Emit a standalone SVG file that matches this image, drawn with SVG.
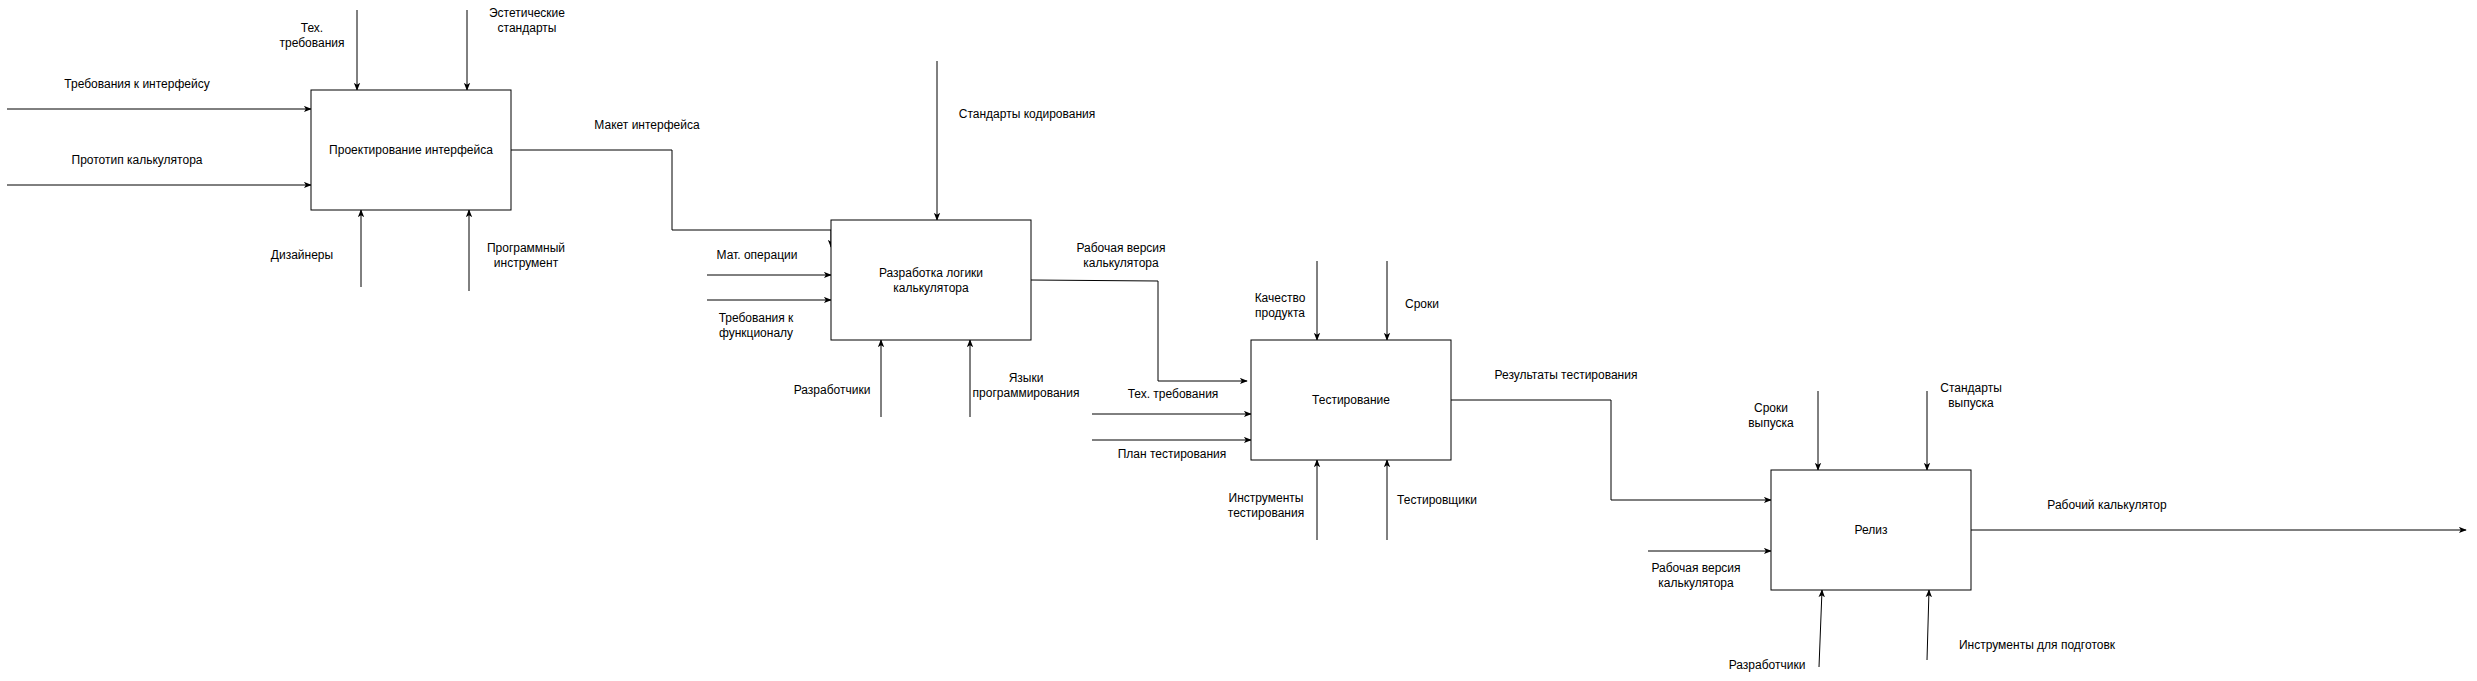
<svg xmlns="http://www.w3.org/2000/svg" width="2477" height="681" viewBox="0 0 2477 681">
<style>
.box{fill:#ffffff;stroke:#000000;stroke-width:1}
.c{fill:none;stroke:#000000;stroke-width:1}
text{font-family:"Liberation Sans",Arial,sans-serif;font-size:12px;fill:#000000;text-anchor:middle}
</style>
<defs>
<marker id="arr" viewBox="0 0 10 8" refX="9" refY="4" markerWidth="8" markerHeight="7" markerUnits="userSpaceOnUse" orient="auto">
<path d="M0,0 L10,4 L0,8 L2.5,4 z" fill="#000000"/>
</marker>
</defs>
<rect width="2477" height="681" fill="#ffffff"/>
<g id="connectors">
<path class="c" d="M7,109 L311,109" marker-end="url(#arr)"/>
<path class="c" d="M7,185 L311,185" marker-end="url(#arr)"/>
<path class="c" d="M357,10 L357,90" marker-end="url(#arr)"/>
<path class="c" d="M467,10 L467,90" marker-end="url(#arr)"/>
<path class="c" d="M361,287 L361,210" marker-end="url(#arr)"/>
<path class="c" d="M469,291 L469,210" marker-end="url(#arr)"/>
<path class="c" d="M511,150 L672,150 L672,230 L831,230 L831,247" marker-end="url(#arr)"/>
<path class="c" d="M937,61 L937,220" marker-end="url(#arr)"/>
<path class="c" d="M707,275 L831,275" marker-end="url(#arr)"/>
<path class="c" d="M707,300 L831,300" marker-end="url(#arr)"/>
<path class="c" d="M881,417 L881,340" marker-end="url(#arr)"/>
<path class="c" d="M970,417 L970,340" marker-end="url(#arr)"/>
<path class="c" d="M1031,280 L1158,281 L1158,381 L1247,381" marker-end="url(#arr)"/>
<path class="c" d="M1092,414 L1251,414" marker-end="url(#arr)"/>
<path class="c" d="M1092,440 L1251,440" marker-end="url(#arr)"/>
<path class="c" d="M1317,261 L1317,340" marker-end="url(#arr)"/>
<path class="c" d="M1387,261 L1387,340" marker-end="url(#arr)"/>
<path class="c" d="M1317,540 L1317,460" marker-end="url(#arr)"/>
<path class="c" d="M1387,540 L1387,460" marker-end="url(#arr)"/>
<path class="c" d="M1451,400 L1611,400 L1611,500 L1771,500" marker-end="url(#arr)"/>
<path class="c" d="M1648,551 L1771,551" marker-end="url(#arr)"/>
<path class="c" d="M1818,391 L1818,470" marker-end="url(#arr)"/>
<path class="c" d="M1927,391 L1927,470" marker-end="url(#arr)"/>
<path class="c" d="M1819,667 L1822,590" marker-end="url(#arr)"/>
<path class="c" d="M1927,660 L1929,590" marker-end="url(#arr)"/>
<path class="c" d="M1971,530 L2466,530" marker-end="url(#arr)"/>
</g>
<g id="labels">
<text x="137" y="88">Требования к интерфейсу</text>
<text x="137" y="164">Прототип калькулятора</text>
<text x="312" y="32">Тех.</text>
<text x="312" y="47">требования</text>
<text x="527" y="17">Эстетические</text>
<text x="527" y="32">стандарты</text>
<text x="302" y="259">Дизайнеры</text>
<text x="526" y="252">Программный</text>
<text x="526" y="267">инструмент</text>
<text x="647" y="129">Макет интерфейса</text>
<text x="1027" y="118">Стандарты кодирования</text>
<text x="757" y="259">Мат. операции</text>
<text x="756" y="322">Требования к</text>
<text x="756" y="337">функционалу</text>
<text x="1121" y="252">Рабочая версия</text>
<text x="1121" y="267">калькулятора</text>
<text x="832" y="394">Разработчики</text>
<text x="1026" y="382">Языки</text>
<text x="1026" y="397">программирования</text>
<text x="1173" y="398">Тех. требования</text>
<text x="1172" y="458">План тестирования</text>
<text x="1280" y="302">Качество</text>
<text x="1280" y="317">продукта</text>
<text x="1422" y="308">Сроки</text>
<text x="1266" y="502">Инструменты</text>
<text x="1266" y="517">тестирования</text>
<text x="1437" y="504">Тестировщики</text>
<text x="1566" y="379">Результаты тестирования</text>
<text x="1771" y="412">Сроки</text>
<text x="1771" y="427">выпуска</text>
<text x="1971" y="392">Стандарты</text>
<text x="1971" y="407">выпуска</text>
<text x="1696" y="572">Рабочая версия</text>
<text x="1696" y="587">калькулятора</text>
<text x="2107" y="509">Рабочий калькулятор</text>
<text x="1767" y="669">Разработчики</text>
<text x="2037" y="649">Инструменты для подготовк</text>
</g>
<g id="node-design">
<rect class="box" x="311" y="90" width="200" height="120"/>
<text x="411" y="154">Проектирование интерфейса</text>
</g>
<g id="node-logic">
<rect class="box" x="831" y="220" width="200" height="120"/>
<text x="931" y="277">Разработка логики</text>
<text x="931" y="292">калькулятора</text>
</g>
<g id="node-testing">
<rect class="box" x="1251" y="340" width="200" height="120"/>
<text x="1351" y="404">Тестирование</text>
</g>
<g id="node-release">
<rect class="box" x="1771" y="470" width="200" height="120"/>
<text x="1871" y="534">Релиз</text>
</g>
</svg>
